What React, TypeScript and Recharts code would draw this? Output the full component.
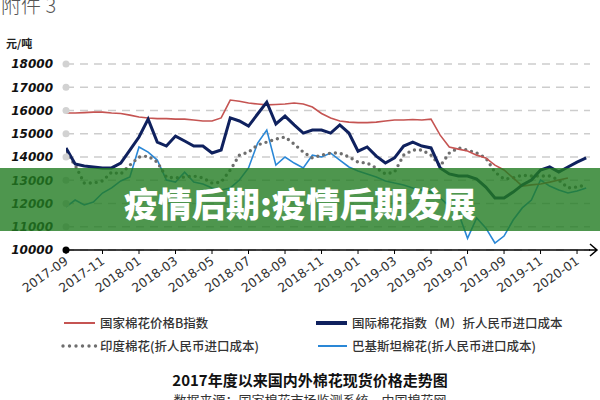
import { LineChart, Line, XAxis, YAxis, CartesianGrid } from 'recharts'

// months since 2017-09
const months = [
  0, 0.5, 1, 1.5, 2, 2.5, 3, 3.5, 4, 4.5, 5, 5.5, 6, 6.5, 7, 7.5, 8, 8.5, 9, 9.5,
  10, 10.5, 11, 11.5, 12, 12.5, 13, 13.5, 14, 14.5, 15, 15.5, 16, 16.5, 17, 17.5, 18, 18.5, 19, 19.5,
  20, 20.5, 21, 21.5, 22, 22.5, 23, 23.5, 24, 24.5, 25, 25.5, 26, 26.5, 27, 27.5, 28, 28.5,
]
const tickMonths = [0, 2, 4, 6, 8, 10, 12, 14, 16, 18, 20, 22, 24, 26, 28]
const tickLabels = [
  '2017-09', '2017-11', '2018-01', '2018-03', '2018-05', '2018-07', '2018-09', '2018-11',
  '2019-01', '2019-03', '2019-05', '2019-07', '2019-09', '2019-11', '2020-01',
]
const yTicks = [10000, 11000, 12000, 13000, 14000, 15000, 16000, 17000, 18000]

// 国家棉花价格B指数
const cottonB = [
  15890, 15890, 15910, 15930, 15930, 15890, 15870, 15800, 15720, 15680, 15650, 15650, 15630, 15630, 15590, 15550, 15550, 15680, 16450, 16400,
  16320, 16280, 16240, 16260, 16280, 16320, 16280, 16150, 15870, 15680, 15550, 15500, 15480, 15480, 15500, 15550, 15590, 15590, 15610, 15590,
  15630, 14940, 14430, 14340, 14260, 14080, 13960, 13650, 13440, 13100, 12750, 12800, 12840, 12920, 13010, 13100, null, null,
]
// 国际棉花指数（M）折人民币进口成本
const cottonM = [
  14390, 13700, 13610, 13570, 13530, 13530, 13740, 14300, 14860, 15630, 14640, 14470, 14900, 14690, 14470, 14470, 14170, 14300, 15680, 15550,
  15330, 15850, 16360, 15420, 15760, 15380, 15030, 15160, 15160, 15030, 15380, 15030, 14250, 14430, 14040, 13740, 13960, 14470, 14640, 14470,
  14390, 13530, 13270, 13180, 13180, 13050, 12710, 12240, 12240, 12490, 12800, 13010, 13440, 13570, 13350, 13570, 13780, 13960,
]
// 印度棉花(折人民币进口成本)
const india = [
  14210, 13650, 12880, 12880, 12970, 13350, 13270, 13650, 14000, 14040, 13780, 13140, 13100, 13140, 13180, 13100, 12880, 12920, 13440, 14080,
  14210, 14520, 14640, 14770, 14860, 14560, 14210, 13960, 14080, 14170, 14170, 14000, 13780, 13740, 13530, 13270, 13350, 14080, 14300, 14300,
  14080, 13610, 14170, 14390, 14300, 14170, 13960, 13350, 13050, 13100, 13220, 13180, 13180, 13180, 13010, 12670, 12710, 12800,
]
// 巴基斯坦棉花(折人民币进口成本)
const pakistan = [
  11850, 12150, 11940, 12060, 12450, 12670, 12970, 13140, 14430, 14210, 13870, 13010, 12920, 13350, 12920, 12840, 12670, 12580, 12670, 13010,
  13530, 14600, 15160, 13650, 14000, 13740, 13530, 14080, 14000, 14170, 13870, 13570, 13400, 13270, 13140, 12970, 12880, 12800, 12670, 12580,
  12490, 12240, 11890, 11590, 10500, 11380, 10950, 10300, 10600, 11290, 11810, 12150, 13010, 12750, 12580, 12450, 12540, 12670,
]

const data = months.map((m, i) => ({
  m,
  b: cottonB[i],
  mIndex: cottonM[i],
  india: india[i],
  pak: pakistan[i],
}))

const RED = '#c55452'
const NAVY = '#0f215e'
const BLUE = '#2a87d6'
const GREY = '#6e6e6e'

function YTick({ y, payload }: any) {
  const base = payload.value === 10000
  return (
    <g>
      <circle cx={66} cy={y} r={3.5} fill={base ? '#000' : '#d2d2d2'} />
      <text
        x={53}
        y={y}
        dy="0.36em"
        textAnchor="end"
        fontSize={12}
        fontWeight="bold"
        fontStyle="italic"
        fontFamily="DejaVu Sans"
        fill="#111"
      >
        {payload.value}
      </text>
    </g>
  )
}

function XTick({ x, y, payload }: any) {
  const label = tickLabels[tickMonths.indexOf(payload.value)]
  return (
    <g transform={`translate(${x + 3},${y + 7})`}>
      <text textAnchor="end" transform="rotate(-35)" fontSize={12.5} fontFamily="DejaVu Sans" fill="#333">
        {label}
      </text>
    </g>
  )
}

const legendText: React.CSSProperties = {
  position: 'absolute',
  fontSize: 12.5,
  lineHeight: '16px',
  color: '#333',
  fontWeight: 500,
  whiteSpace: 'nowrap',
}

export default function App() {
  return (
    <div
      style={{
        position: 'absolute',
        left: 0,
        top: 0,
        width: 600,
        height: 400,
        overflow: 'hidden',
        background: '#fff',
        fontFamily: '"Noto Sans CJK SC", sans-serif',
      }}
    >
      <div style={{ position: 'absolute', left: 1, top: -7, fontSize: 20, lineHeight: '24px', color: '#555', fontWeight: 300 }}>
        附件 3
      </div>
      <div style={{ position: 'absolute', left: 6, top: 36, fontSize: 11, lineHeight: '14px', color: '#222', fontWeight: 700 }}>
        元/吨
      </div>

      <div style={{ position: 'absolute', left: 0, top: 0 }}>
        <LineChart width={600} height={300} data={data} margin={{ top: 64, right: 10, bottom: 0, left: 0 }}>
          <CartesianGrid vertical={false} stroke="#cdcdcd" strokeDasharray="8 6" strokeWidth={1.5} />
          <XAxis
            dataKey="m"
            type="number"
            domain={[0, 28.71]}
            ticks={tickMonths}
            interval={0}
            allowDataOverflow
            height={50}
            axisLine={{ stroke: '#000', strokeWidth: 1.5 }}
            tickLine={{ stroke: '#000' }}
            tickSize={4}
            tick={<XTick />}
          />
          <YAxis
            domain={[10000, 18000]}
            ticks={yTicks}
            interval={0}
            width={66}
            axisLine={false}
            tickLine={false}
            tick={<YTick />}
          />
          <Line dataKey="pak" stroke={BLUE} strokeWidth={1.6} dot={false} isAnimationActive={false} />
          <Line
            dataKey="india"
            stroke={GREY}
            strokeWidth={3.4}
            strokeDasharray="0 6"
            strokeLinecap="round"
            dot={false}
            isAnimationActive={false}
          />
          <Line dataKey="b" stroke={RED} strokeWidth={1.6} dot={false} isAnimationActive={false} />
          <Line dataKey="mIndex" stroke={NAVY} strokeWidth={3} dot={false} isAnimationActive={false} />
        </LineChart>
      </div>

      <svg width={600} height={300} style={{ position: 'absolute', left: 0, top: 0, pointerEvents: 'none' }}>
        <path d="M589,250 L597,250 M590,244 L597,250 L590,256" stroke="#000" strokeWidth={1.5} fill="none" />
      </svg>

      {/* legend */}
      <div style={{ position: 'absolute', left: 64, top: 322, width: 31, height: 2, background: RED }} />
      <div style={{ ...legendText, left: 100, top: 315 }}>国家棉花价格B指数</div>
      <div style={{ position: 'absolute', left: 316, top: 321, width: 31, height: 3.5, background: NAVY }} />
      <div style={{ ...legendText, left: 352, top: 315 }}>国际棉花指数（M）折人民币进口成本</div>
      <svg width={40} height={10} style={{ position: 'absolute', left: 60, top: 341 }}>
        <line x1={3} y1={5} x2={36} y2={5} stroke={GREY} strokeWidth={3.4} strokeDasharray="0 6.5" strokeLinecap="round" />
      </svg>
      <div style={{ ...legendText, left: 100, top: 338 }}>印度棉花(折人民币进口成本)</div>
      <div style={{ position: 'absolute', left: 318, top: 345, width: 29, height: 2, background: BLUE }} />
      <div style={{ ...legendText, left: 352, top: 338 }}>巴基斯坦棉花(折人民币进口成本)</div>

      <div
        style={{
          position: 'absolute',
          left: 0,
          width: 620,
          top: 370,
          textAlign: 'center',
          fontSize: 15,
          lineHeight: '20px',
          fontWeight: 700,
          color: '#111',
        }}
      >
        2017年度以来国内外棉花现货价格走势图
      </div>
      <div
        style={{
          position: 'absolute',
          left: 0,
          width: 620,
          top: 391,
          textAlign: 'center',
          fontSize: 13,
          lineHeight: '18px',
          color: '#333',
        }}
      >
        数据来源：国家棉花市场监测系统、中国棉花网
      </div>

      {/* banner */}
      <div
        style={{
          position: 'absolute',
          left: 0,
          top: 168,
          width: 600,
          height: 63,
          background: 'rgba(34,124,34,0.8)',
          color: '#fff',
          textAlign: 'center',
          fontSize: 34,
          lineHeight: '63px',
          fontWeight: 900,
          paddingTop: 3,
          boxSizing: 'border-box',
        }}
      >
        疫情后期:疫情后期发展
      </div>
    </div>
  )
}
